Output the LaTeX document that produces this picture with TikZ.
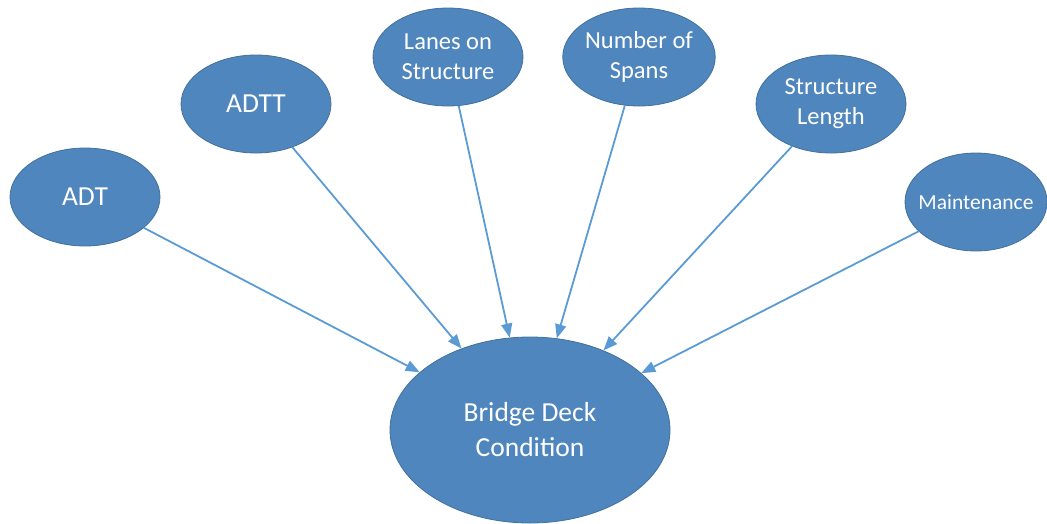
\documentclass[tikz,border=0pt]{standalone}
\usepackage{fontspec}
\setmainfont{Carlito}
\usetikzlibrary{shapes.geometric,arrows.meta}
\tikzset{cause/.style={ellipse,draw=bld,fill=blf,line width=0.8pt,text=white,minimum width=150pt,minimum height=98pt,inner sep=0pt,align=center,font=\fontsize{24.5}{30}\selectfont},
  link/.style={draw=bll,line width=1.8pt,-{Triangle[length=14pt,width=11pt]}}}

\begin{document}
\begin{tikzpicture}[x=1pt,y=-1pt]
    \definecolor{blf}{HTML}{4F86BD}
    \definecolor{bld}{HTML}{41719C}
    \definecolor{bll}{HTML}{5B9BD5}

    \useasboundingbox (0,0) rectangle (1047,523);

    \node[cause,font=\fontsize{27.5}{32}\selectfont] (adt) at (85,197) {ADT};
    \node[cause,font=\fontsize{27.5}{32}\selectfont] (adtt) at (256,104) {ADTT};
    \node[cause] (lanes) at (448,57) {Lanes on\\Structure};
    \node[cause] (spans) at (639,57) {Number of\\Spans};
    \node[cause] (length) at (831,104) {Structure\\Length};
    \node[cause,minimum width=142pt,inner xsep=-12pt,font=\fontsize{21.5}{26}\selectfont] (maint) at (976,202) {Maintenance};
    \node[cause,minimum width=280pt,minimum height=186pt,font=\fontsize{27.5}{35}\selectfont] (bdc) at (530,430) {Bridge Deck\\Condition};

    \foreach \src in {adt,adtt,lanes,spans,length,maint} {
        \draw[link] (\src) -- (bdc);
    }
\end{tikzpicture}
\end{document}
